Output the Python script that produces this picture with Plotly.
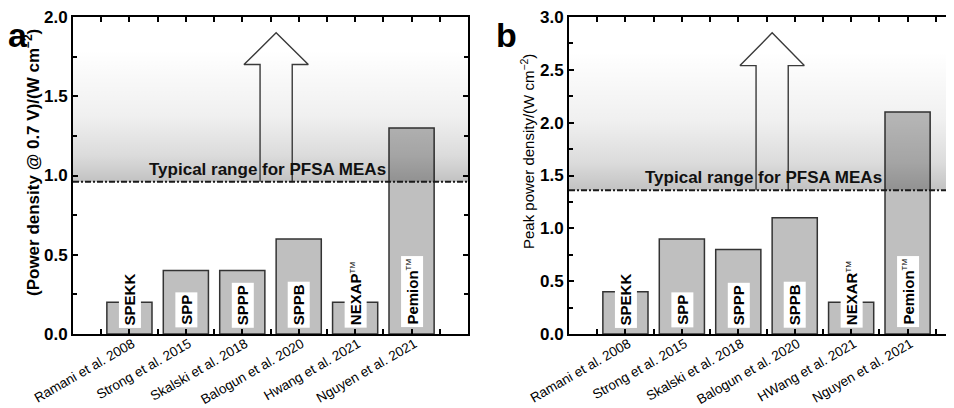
import plotly.graph_objects as go

# ---------------- data ----------------
studies_a = ["Ramani et al. 2008", "Strong et al. 2015", "Skalski et al. 2018",
             "Balogun et al. 2020", "Hwang et al. 2021", "Nguyen et al. 2021"]
studies_b = ["Ramani et al. 2008", "Strong et al. 2015", "Skalski et al. 2018",
             "Balogun et al. 2020", "HWang et al. 2021", "Nguyen et al. 2021"]
TM = '<sup><span style="font-size:8px;font-weight:normal">TM</span></sup>'
materials_a = ["SPEKK", "SPP", "SPPP", "SPPB", "NEXAP" + TM, "Pemion" + TM]
materials_b = ["SPEKK", "SPP", "SPPP", "SPPB", "NEXAR" + TM, "Pemion" + TM]
power_at_07V = [0.2, 0.4, 0.4, 0.6, 0.2, 1.3]      # W cm-2
peak_power = [0.4, 0.9, 0.8, 1.1, 0.3, 2.1]        # W cm-2
pfsa_typical_a = 0.96
pfsa_typical_b = 1.36
pfsa_label = "Typical range for PFSA MEAs"
ytitle_a = "(Power density @ 0.7 V)/(W cm<sup>−2</sup>)"
ytitle_b = "Peak power density/(W cm<sup>−2</sup>)"

FONT = "Liberation Sans, Arial, sans-serif"
OFF = 8                      # page body margin of the browser
W, H = 954 - OFF, 408 - OFF  # figure size actually visible
def X(px):  # screen pixel -> figure pixel
    return px - OFF
L_A, R_A, L_B, R_B = X(73), X(468), X(569), W
TOP, BOT = X(17), X(334)

fig = go.Figure()

xmax_b = -1 + (R_B - L_B) / ((R_A - L_A) / 7.0)

panels = [
    dict(xa="x", ya="y", studies=studies_a, mats=materials_a, vals=power_at_07V,
         line=pfsa_typical_a, ymax=2.0, xmax=6.0, arrow_tip=1.9, arrow_head=1.70),
    dict(xa="x2", ya="y2", studies=studies_b, mats=materials_b, vals=peak_power,
         line=pfsa_typical_b, ymax=3.0, xmax=xmax_b, arrow_tip=2.85, arrow_head=2.54),
]

idx = list(range(len(studies_a)))

for p in panels:
    # bars
    fig.add_trace(go.Bar(
        x=idx, y=p["vals"], xaxis=p["xa"], yaxis=p["ya"], width=0.8,
        marker=dict(color="#bfbfbf", line=dict(color="#333333", width=1.5)),
        showlegend=False, hoverinfo="skip"))
    # gradient band above typical PFSA line
    top_grad = p["line"] + (p["ymax"] - p["line"]) * 0.8
    fig.add_trace(go.Scatter(
        x=[-1, p["xmax"], p["xmax"], -1, -1],
        y=[p["line"], p["line"], p["ymax"], p["ymax"], p["line"]],
        xaxis=p["xa"], yaxis=p["ya"], mode="none", fill="toself",
        fillgradient=dict(type="vertical", start=p["line"], stop=top_grad,
                          colorscale=[[0, "rgba(0,0,0,0.24)"], [0.2, "rgba(0,0,0,0.14)"],
                                      [0.5, "rgba(0,0,0,0.06)"], [1, "rgba(0,0,0,0)"]]),
        showlegend=False, hoverinfo="skip"))
    # arrow outline
    c, sw, hw = 2.6, 0.285, 0.57
    fig.add_trace(go.Scatter(
        x=[c - sw, c - sw, c - hw, c, c + hw, c + sw, c + sw],
        y=[p["line"], p["arrow_head"], p["arrow_head"], p["arrow_tip"],
           p["arrow_head"], p["arrow_head"], p["line"]],
        xaxis=p["xa"], yaxis=p["ya"], mode="lines",
        line=dict(color="#3a3a3a", width=1.4), showlegend=False, hoverinfo="skip"))
    # dashed PFSA line
    fig.add_shape(type="line", xref=p["xa"] + " domain", yref=p["ya"],
                  x0=0, x1=1, y0=p["line"], y1=p["line"],
                  line=dict(color="#1a1a1a", width=2, dash="6px,2px,2px,2px"))
    fig.add_annotation(x=2.45, y=p["line"], xref=p["xa"], yref=p["ya"],
                       text=pfsa_label, showarrow=False, yanchor="bottom", yshift=1,
                       font=dict(family=FONT, size=17, color="#111", weight="bold"))
    # material labels in bars
    for i, m in zip(idx, p["mats"]):
        fig.add_annotation(x=i, y=0, xref=p["xa"], yref=p["ya"], text=m,
                           showarrow=False, textangle=-90, yanchor="bottom", yshift=6,
                           bgcolor="white", borderpad=2,
                           font=dict(family=FONT, size=15, color="black", weight="bold"))

axis_common = dict(showline=True, linewidth=2, linecolor="black", mirror="ticks",
                   ticks="inside", ticklen=5, tickwidth=1.5, tickcolor="black",
                   showgrid=False, zeroline=False, automargin=False,
                   ticklabeloverflow="allow")
xtick_font = dict(family=FONT, size=13.5, color="black")
minor_x = dict(dtick=0.5, tick0=0.5, ticks="inside", ticklen=5, tickwidth=1.5, tickcolor="black")
minor_y = dict(dtick=0.25, ticks="inside", ticklen=4, tickwidth=1.5, tickcolor="black")
ytick_font = dict(family=FONT, size=17, color="black", weight="bold")

fig.update_layout(
    width=W, height=H, margin=dict(l=0, r=0, t=TOP, b=H - BOT, autoexpand=False),
    paper_bgcolor="white", plot_bgcolor="white", bargap=0.2,
    xaxis=dict(domain=[L_A / W, R_A / W], range=[-1, 6], tickvals=idx, ticktext=studies_a,
               tickangle=-30, tickfont=xtick_font, ticklabelshift=3, ticklabelstandoff=-5,
               minor=minor_x, **axis_common),
    yaxis=dict(domain=[0, 1], range=[0, 2.0], dtick=0.5, tickformat=".1f",
               tickfont=ytick_font, minor=minor_y, **axis_common),
    xaxis2=dict(domain=[L_B / W, R_B / W], range=[-1, xmax_b], tickvals=idx, ticktext=studies_b,
                anchor="y2", tickangle=-30, tickfont=xtick_font, ticklabelshift=3,
                ticklabelstandoff=-5, minor=minor_x, **axis_common),
    yaxis2=dict(domain=[0, 1], range=[0, 3.0], dtick=0.5, tickformat=".1f", anchor="x2",
                tickfont=ytick_font, minor=minor_y, **axis_common),
)

ph = BOT - TOP
def py(pix):
    return (BOT - X(pix)) / ph

# y-axis titles
fig.add_annotation(x=X(32) / W, y=py(163), xref="paper", yref="paper", text=ytitle_a,
                   showarrow=False, textangle=-90, xanchor="center", yanchor="middle",
                   font=dict(family=FONT, size=17, color="black", weight="bold"))
fig.add_annotation(x=X(527) / W, y=py(152), xref="paper", yref="paper", text=ytitle_b,
                   showarrow=False, textangle=-90, xanchor="center", yanchor="middle",
                   font=dict(family=FONT, size=15, color="black"))
# panel letters
fig.add_annotation(x=X(6) / W, y=py(14), xref="paper", yref="paper", text="a",
                   showarrow=False, xanchor="left", yanchor="top",
                   font=dict(family=FONT, size=34, color="black", weight="bold"))
fig.add_annotation(x=X(494) / W, y=py(14), xref="paper", yref="paper", text="b",
                   showarrow=False, xanchor="left", yanchor="top",
                   font=dict(family=FONT, size=34, color="black", weight="bold"))

fig.write_html("out.html")
